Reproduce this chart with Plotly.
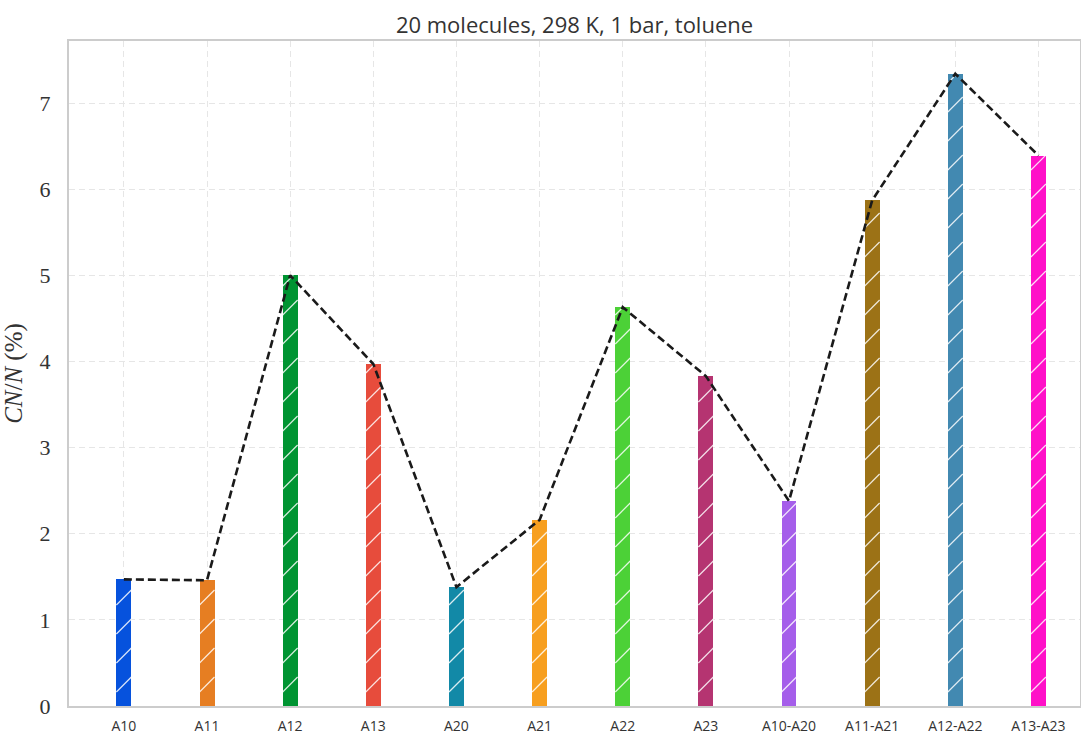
import plotly.graph_objects as go

# ring systems and their CN/N values (%)
systems = ['A10', 'A11', 'A12', 'A13', 'A20', 'A21', 'A22', 'A23',
           'A10-A20', 'A11-A21', 'A12-A22', 'A13-A23']
cn_n = [1.47, 1.46, 5.00, 3.97, 1.38, 2.16, 4.63, 3.83, 2.38, 5.87, 7.34, 6.39]
bar_colors = ['#0652DD', '#E67E22', '#009432', '#E74C3C', '#1289A7', '#F79F1F',
              '#4CD137', '#B53471', '#A55EEA', '#9C7216', '#4289B1', '#FF10C8']
y_ticks = [0, 1, 2, 3, 4, 5, 6, 7]

BAR_W = 0.18
X_RANGE = [-0.66, 11.5]
Y_RANGE = [0, 7.72]
pos = list(range(len(systems)))

# '/' hatch drawn as thin white segments inside each bar (pattern fills render badly)
px_per_x = (1080 - 69) / (X_RANGE[1] - X_RANGE[0])
px_per_y = (735 - 41 - 29) / (Y_RANGE[1] - Y_RANGE[0])
rise = BAR_W * px_per_x / px_per_y      # ~45 degrees on screen
step = 29 / px_per_y                    # ~29 px between hatch lines
hx, hy = [], []
for c, v in zip(pos, cn_n):
    x0, x1 = c - BAR_W / 2, c + BAR_W / 2
    y0 = -rise
    while y0 < v:
        ya, yb = y0, y0 + rise
        xa, xb = x0, x1
        if ya < 0:
            xa = x0 + (0 - ya) / rise * BAR_W
            ya = 0
        if yb > v:
            xb = x0 + (v - y0) / rise * BAR_W
            yb = v
        if xb > xa:
            hx += [xa, xb, None]
            hy += [ya, yb, None]
        y0 += step

fig = go.Figure()

fig.add_trace(go.Bar(
    x=pos,
    y=cn_n,
    width=BAR_W,
    marker=dict(color=bar_colors, line_width=0),
    showlegend=False,
))

fig.add_trace(go.Scatter(
    x=hx, y=hy,
    mode='lines',
    line=dict(color='rgba(255,255,255,0.85)', width=1.2),
    hoverinfo='skip',
    showlegend=False,
))

fig.add_trace(go.Scatter(
    x=pos,
    y=cn_n,
    mode='lines',
    line=dict(color='#1a1a1a', width=2.6, dash='8px,4px'),
    showlegend=False,
))

fig.update_layout(
    title=dict(text='20 molecules, 298 K, 1 bar, toluene',
               x=(69 + 1080) / 2 / 1081, xanchor='center',
               y=1 - 25 / 735, yanchor='middle',
               font=dict(family='Open Sans', size=22, color='#333333')),
    xaxis=dict(
        range=X_RANGE,
        tickvals=pos,
        ticktext=systems,
        showgrid=True,
        gridcolor='#e6e6e6',
        griddash='6px,4px',
        gridwidth=1,
        zeroline=False,
        showline=True,
        linecolor='#cccccc',
        linewidth=2,
        mirror=True,
        ticks='',
        ticklabelstandoff=6,
        tickfont=dict(family='Open Sans', size=14, color='#333333'),
    ),
    yaxis=dict(
        range=Y_RANGE,
        tickvals=y_ticks,
        showgrid=True,
        gridcolor='#e6e6e6',
        griddash='6px,4px',
        gridwidth=1,
        zeroline=False,
        showline=True,
        linecolor='#cccccc',
        linewidth=2,
        mirror=True,
        ticks='',
        ticklabelstandoff=12,
        tickfont=dict(family='Liberation Serif', size=22, color='#333333'),
        title=dict(text='<i>CN</i>/<i>N</i> (%)', standoff=10,
                   font=dict(family='Liberation Serif', size=25, color='#333333')),
    ),
    margin=dict(l=69, r=1, t=41, b=29, autoexpand=False),
    width=1081,
    height=735,
    paper_bgcolor='white',
    plot_bgcolor='white',
    bargap=0,
)

fig.write_html('out.html',
               config={'displayModeBar': False},
               post_script="document.body.style.margin='0';"
                           "document.body.style.overflow='hidden';")
